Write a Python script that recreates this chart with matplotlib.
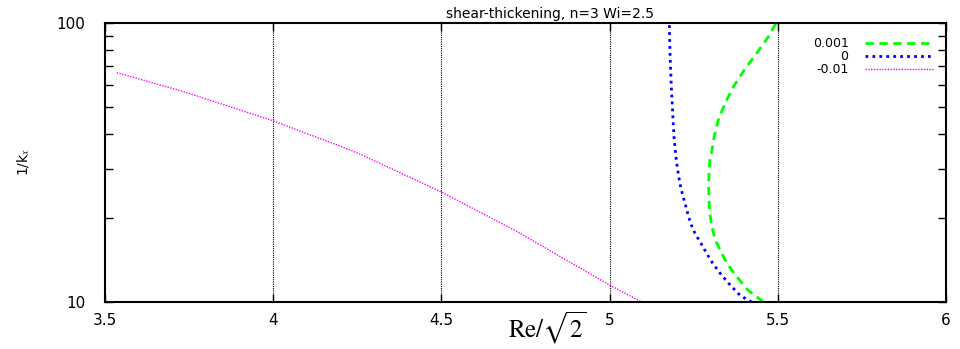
import matplotlib
matplotlib.use("Agg")
import matplotlib.pyplot as plt
from matplotlib.ticker import FixedLocator, NullFormatter

# curves: Re/sqrt(2) vs 1/k_x
re_p001 = [5.457, 5.437, 5.412, 5.386, 5.363, 5.344, 5.328, 5.314, 5.304, 5.298, 5.2955, 5.2945,
           5.2955, 5.298, 5.301, 5.311, 5.323, 5.343, 5.368, 5.400, 5.437, 5.472, 5.495]
kx_p001 = [10.0, 10.45, 11.0, 12.0, 13.0, 14.1, 15.4, 16.7, 18.6, 20.8, 23.2, 25.9,
           28.9, 32.3, 33.2, 39.1, 44.9, 51.5, 59.1, 67.8, 77.9, 89.3, 100.0]

re_0 = [5.4225, 5.408, 5.383, 5.353, 5.328, 5.306, 5.289, 5.272, 5.254, 5.241, 5.232, 5.224,
        5.216, 5.209, 5.204, 5.199, 5.197, 5.1915, 5.1876, 5.1835, 5.1796, 5.1775]
kx_0 = [10.0, 10.2, 10.7, 11.7, 12.7, 13.8, 14.9, 16.2, 17.6, 19.1, 20.8, 22.6,
        24.5, 26.6, 28.9, 31.8, 33.2, 39.1, 47.4, 59.1, 77.9, 100.0]

re_m001 = [3.535, 3.733, 4.0, 4.228, 4.258, 4.5, 4.724, 5.0, 5.095]
kx_m001 = [66.4, 56.8, 44.6, 35.1, 33.9, 24.8, 17.9, 11.5, 10.0]

labels = ["0.001", "0", "-0.01"]
xticks = [3.5, 4, 4.5, 5, 5.5, 6]
xticklabels = ["3.5", "4", "4.5", "5", "5.5", "6"]


def main():
    plt.rcParams["mathtext.fontset"] = "stix"
    fig = plt.figure(figsize=(9.6, 3.49), dpi=100)
    ax = fig.add_axes([105 / 960, 1 - 302 / 349, 841 / 960, 279 / 349])

    ax.plot(re_p001, kx_p001, color="#00ff00", lw=2.0, ls=(0, (3, 2)), label=labels[0])
    ax.plot(re_0, kx_0, color="#0000ff", lw=2.0, ls=(0, (1, 1.5)), label=labels[1])
    ax.plot(re_m001, kx_m001, color="#ff00ff", lw=1.0, ls=(0, (1, 1)), label=labels[2])

    ax.set_yscale("log")
    ax.set_xlim(3.5, 6)
    ax.set_ylim(10, 100)

    ax.set_xticks(xticks)
    ax.set_xticklabels(xticklabels)
    ax.yaxis.set_major_locator(FixedLocator([10, 100]))
    ax.yaxis.set_minor_locator(FixedLocator([20, 30, 40, 50, 60, 70, 80, 90]))
    ax.yaxis.set_minor_formatter(NullFormatter())
    ax.set_yticklabels(["10", "100"])
    ax.xaxis.set_minor_locator(FixedLocator([]))

    ax.tick_params(which="both", direction="in", top=True, right=True, length=6, width=1.0, labelsize=11, pad=8)
    ax.tick_params(axis="y", which="major", pad=14)
    for sp in ax.spines.values():
        sp.set_linewidth(1.5)

    for x in [4, 4.5, 5, 5.5]:
        ax.axvline(x, color="black", lw=0.8, ls=(0, (1, 1)), zorder=0)

    # markerfirst=False packs the rows right-aligned, so labels end at the samples
    ax.legend(loc="upper right", bbox_to_anchor=(0.9845, 0.95), frameon=False,
              markerfirst=False, fontsize=9, handlelength=5.4, handletextpad=1.35,
              labelspacing=0.0, borderaxespad=0.0, borderpad=0.0)

    fig.text(550 / 960, 1 - 14 / 349, "shear-thickening, n=3 Wi=2.5", ha="center", va="center", fontsize=10)
    fig.text(24 / 960, 1 - 162 / 349, "1/k$_x$", rotation=90, ha="center", va="center", fontsize=10)
    fig.text(547 / 960, 1 - 328 / 349, r"$\mathrm{Re}/\sqrt{2}$", ha="center", va="center", fontsize=18)

    fig.savefig("out.png", dpi=100)
    plt.close(fig)


if __name__ == "__main__":
    main()
